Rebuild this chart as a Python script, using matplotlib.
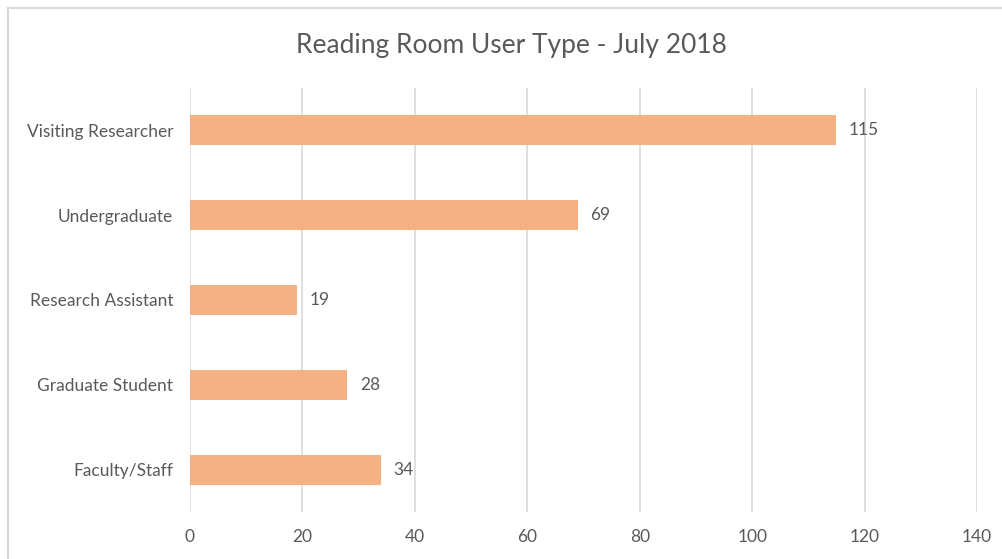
import matplotlib.pyplot as plt
from matplotlib.patches import Rectangle

# data
categories = ['Faculty/Staff', 'Graduate Student', 'Research Assistant',
              'Undergraduate', 'Visiting Researcher']
counts = [34, 28, 19, 69, 115]
x_ticks = [0, 20, 40, 60, 80, 100, 120, 140]

text_color = '#595959'
bar_color = '#F4B183'
grid_color = '#D9D9D9'

plt.rcParams['font.family'] = ['Lato', 'DejaVu Sans']

fig = plt.figure(figsize=(10.03, 5.59), dpi=100)
ax = fig.add_axes([190 / 1003, 1 - 512 / 559, 787 / 1003, 424 / 559])

# chart border (only top and left visible in the crop)
fig.patches.append(Rectangle((8.5 / 1003, -0.1), 1.2, 1 - 7.5 / 559 + 0.1,
                             transform=fig.transFigure, fill=False,
                             edgecolor=grid_color, linewidth=1.5))

ypos = range(len(categories))
ax.barh(ypos, counts, height=0.355, color=bar_color, zorder=3)
for y, v in zip(ypos, counts):
    ax.text(v + 2.2, y, str(v), va='center', ha='left',
            fontsize=12.5, color=text_color)

ax.set_xlim(0, 140)
ax.set_ylim(-0.5, len(categories) - 0.5)
ax.set_xticks(x_ticks)
ax.set_yticks(list(ypos))
ax.set_yticklabels(categories)
ax.grid(axis='x', color=grid_color, linewidth=1.2, zorder=0)
ax.tick_params(axis='both', length=0, labelsize=12.5, colors=text_color)
ax.tick_params(axis='y', pad=12)
ax.tick_params(axis='x', pad=12)
for s in ax.spines.values():
    s.set_visible(False)

fig.text(511 / 1003, 1 - 45 / 559, 'Reading Room User Type - July 2018',
         ha='center', va='center', fontsize=19, color=text_color)

fig.savefig('out.png', dpi=100)
